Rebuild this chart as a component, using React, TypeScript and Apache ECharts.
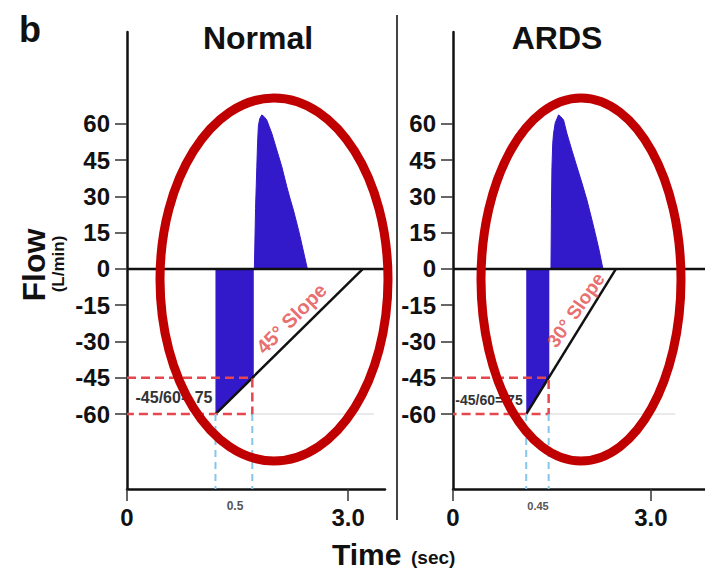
import React, { useEffect, useRef } from "react";
import * as echarts from "echarts";

// ---------- data ----------
const yTickValues = [-60, -45, -30, -15, 0, 15, 30, 45, 60];
const xTickValues = [0, 3];
const xTickLabels = ["0", "3.0"];

// Normal panel (time in sec, flow in L/min)
const normalInspTime = [1.728, 1.744, 1.761, 1.771, 1.782, 1.799, 1.828, 1.86, 1.896, 1.928, 1.964, 2.032, 2.1, 2.168, 2.213, 2.257, 2.307, 2.348, 2.403, 2.447];
const normalInspFlow = [0, 25, 42, 52, 59, 62, 63.7, 63, 61.6, 59, 56.1, 49.2, 42.3, 34, 29, 24.4, 18.5, 13.4, 6, 0];
const normalExpTime = [1.2, 1.72];
const normalExpFlow = [-60, -44.4];
const normalSlopeTime = [1.2, 3.2];
const normalSlopeFlow = [-60, 0];
const normalMarkTime = 1.7; // where slope reaches -45
const normalXMax = 3.5;

// ARDS panel
const ardsInspTime = [1.485, 1.492, 1.5, 1.512, 1.524, 1.55, 1.6, 1.633, 1.676, 1.727, 1.803, 1.879, 1.955, 2.03, 2.095, 2.156, 2.217, 2.273];
const ardsInspFlow = [0, 25, 42, 52, 56, 60.5, 63.7, 63, 61.6, 56, 49, 42.2, 35.5, 28.5, 21.5, 14.7, 7.5, 0];
const ardsExpTime = [1.11, 1.46];
const ardsExpFlow = [-60, -44.6];
const ardsSlopeTime = [1.11, 2.47];
const ardsSlopeFlow = [-60, 0];
const ardsMarkTime = 1.45;
const ardsXMax = 3.82;

const yMin = -91;
const yMax = 98;
const startFlow = -60;
const markFlow = -45;

const FONT = "'Liberation Sans', Arial, Helvetica, sans-serif";
const BLUE = "#3219c9";
const RED_DASH = "#e5474f";
const RED_TEXT = "#e24848";
const LIGHT_BLUE = "#86c6e8";
const ELLIPSE_RED = "#c00000";

const zip = (a: number[], b: number[]) => a.map((v, i) => [v, b[i]]);

function seg(idx: number, data: any[], color: string, width: number, type: any, z: number) {
  return {
    type: "line",
    xAxisIndex: idx,
    yAxisIndex: idx,
    data,
    symbol: "none",
    silent: true,
    clip: false,
    lineStyle: { color, width, type },
    z,
  };
}

function area(idx: number, data: any[]) {
  return {
    type: "line",
    xAxisIndex: idx,
    yAxisIndex: idx,
    data,
    symbol: "none",
    silent: true,
    smooth: false,
    lineStyle: { color: BLUE, width: 1 },
    areaStyle: { color: BLUE, opacity: 1, origin: 0 },
    z: 2,
  };
}

function textPoint(idx: number, pos: number[], text: string, rotate: number, size: number) {
  return {
    type: "scatter",
    xAxisIndex: idx,
    yAxisIndex: idx,
    symbolSize: 0,
    silent: true,
    itemStyle: { color: "transparent" },
    data: [pos],
    label: {
      show: true,
      position: "inside",
      formatter: text,
      rotate,
      fontSize: size,
      fontWeight: "bold",
      color: RED_TEXT,
      fontFamily: FONT,
    },
    z: 6,
  };
}

function panelSeries(
  idx: number,
  inspT: number[], inspF: number[],
  expT: number[], expF: number[],
  slopeT: number[], slopeF: number[],
  markT: number, xMax: number, grayEnd: number,
  slopeLabel: string, slopePos: number[], slopeRot: number, slopeSize: number
) {
  return [
    area(idx, zip(expT, expF)),
    area(idx, zip(inspT, inspF)),
    seg(idx, [[markT, startFlow], [grayEnd, startFlow]], "#d4d4d4", 1, "solid", 1),
    seg(idx, [[0, 0], [xMax, 0]], "#111", 2.5, "solid", 3),
    seg(idx, zip(slopeT, slopeF), "#111", 2.5, "solid", 3),
    seg(idx, [[0, markFlow], [markT, markFlow], [markT, startFlow], [0, startFlow]], RED_DASH, 2.5, [9, 5], 4),
    seg(idx, [[slopeT[0], startFlow], [slopeT[0], yMin]], LIGHT_BLUE, 2, [7, 5], 4),
    seg(idx, [[markT, startFlow], [markT, yMin]], LIGHT_BLUE, 2, [7, 5], 4),
    textPoint(idx, slopePos, slopeLabel, slopeRot, slopeSize),
  ];
}

function xAxis(gridIndex: number, max: number) {
  return {
    type: "value",
    gridIndex,
    min: 0,
    max,
    axisLine: { show: true, onZero: false, lineStyle: { color: "#111", width: 2.5 } },
    axisTick: { show: true, customValues: xTickValues, length: 12, lineStyle: { color: "#333", width: 1.5 } },
    axisLabel: {
      show: true,
      customValues: xTickValues,
      formatter: (v: number) => xTickLabels[xTickValues.indexOf(v)] ?? "",
      fontSize: 24,
      fontWeight: "bold",
      color: "#111",
      margin: 16,
      fontFamily: FONT,
    },
    splitLine: { show: false },
  };
}

function yAxis(gridIndex: number) {
  return {
    type: "value",
    gridIndex,
    min: yMin,
    max: yMax,
    axisLine: { show: true, onZero: false, lineStyle: { color: "#111", width: 2.5 } },
    axisTick: { show: true, customValues: yTickValues, length: 12, lineStyle: { color: "#333", width: 1.5 } },
    axisLabel: {
      show: true,
      customValues: yTickValues,
      fontSize: 24,
      fontWeight: "bold",
      color: "#111",
      margin: 17,
      fontFamily: FONT,
    },
    splitLine: { show: false },
  };
}

function txt(text: string, x: number, y: number, size: number, opts: any = {}) {
  return {
    type: "text",
    x,
    y,
    rotation: opts.rotation ?? 0,
    z: opts.z ?? 50,
    silent: true,
    style: {
      text,
      x: 0,
      y: 0,
      fill: opts.color ?? "#111",
      font: `${opts.weight ?? "bold"} ${size}px ${FONT}`,
      textAlign: opts.align ?? "center",
      textVerticalAlign: "middle",
    },
  };
}

export default function App() {
  const ref = useRef<HTMLDivElement>(null);

  useEffect(() => {
    if (!ref.current) return;
    const chart = echarts.init(ref.current, null, { renderer: "svg" });
    const option: any = {
      animation: false,
      backgroundColor: "#fff",
      grid: [
        { left: 127, top: 32, width: 258, height: 457 },
        { left: 453, top: 32, width: 252, height: 457 },
      ],
      xAxis: [xAxis(0, normalXMax), xAxis(1, ardsXMax)],
      yAxis: [yAxis(0), yAxis(1)],
      series: [
        ...panelSeries(0, normalInspTime, normalInspFlow, normalExpTime, normalExpFlow,
          normalSlopeTime, normalSlopeFlow, normalMarkTime, normalXMax, 3.35,
          "45° Slope", [2.23, -20.5], 45, 20),
        ...panelSeries(1, ardsInspTime, ardsInspFlow, ardsExpTime, ardsExpFlow,
          ardsSlopeTime, ardsSlopeFlow, ardsMarkTime, ardsXMax, 3.37,
          "30° Slope", [1.86, -17], 55, 19),
      ],
      graphic: [
        {
          type: "line",
          silent: true,
          z: 40,
          shape: { x1: 397, y1: 15, x2: 397, y2: 520 },
          style: { stroke: "#444", lineWidth: 2 },
        },
        txt("b", 19, 29.5, 36, { align: "left" }),
        txt("Normal", 258, 38, 32),
        txt("ARDS", 557, 38, 32),
        txt("Flow", 34, 265, 32, { rotation: Math.PI / 2 }),
        txt("(L/min)", 58, 264, 17, { rotation: Math.PI / 2 }),
        txt("Time", 332, 554.5, 30, { align: "left" }),
        txt("(sec)", 411, 557.5, 19, { align: "left" }),
        txt("0.5", 235, 506, 12, { color: "#555" }),
        txt("0.45", 538, 506, 11, { color: "#555" }),
        txt("-45/60=.75", 174, 397.5, 16, { color: "#333" }),
        txt("-45/60=.75", 489, 400, 14, { color: "#333" }),
        {
          type: "ellipse",
          silent: true,
          z: 100,
          shape: { cx: 274, cy: 279.5, rx: 114, ry: 181.5 },
          style: { fill: "none", stroke: ELLIPSE_RED, lineWidth: 9 },
        },
        {
          type: "ellipse",
          silent: true,
          z: 100,
          shape: { cx: 581, cy: 279.5, rx: 100, ry: 181.5 },
          style: { fill: "none", stroke: ELLIPSE_RED, lineWidth: 9 },
        },
      ],
    };
    chart.setOption(option);
    return () => chart.dispose();
  }, []);

  return (
    <div
      ref={ref}
      style={{ position: "absolute", left: 0, top: 0, width: 705, height: 576, background: "#fff" }}
    />
  );
}
